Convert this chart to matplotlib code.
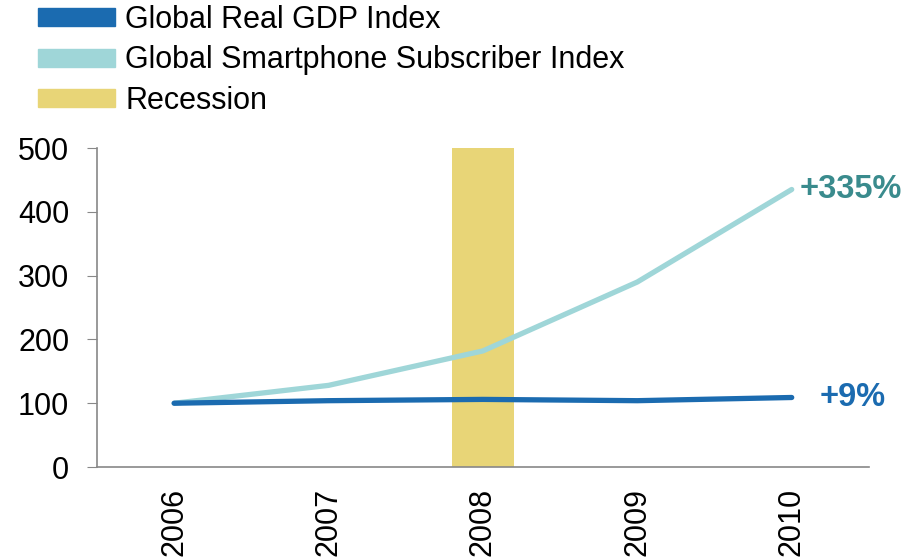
import matplotlib.pyplot as plt
from matplotlib.patches import Patch

plt.rcParams['font.family'] = ['Liberation Sans', 'DejaVu Sans']

years = ['2006', '2007', '2008', '2009', '2010']
gdp_index = [100, 104, 106, 104, 109]
phone_index = [100, 128, 182, 290, 435]
recession_year = '2008'
recession_top = 500

gdp_color = '#1b6bb0'
phone_color = '#9fd6d8'
recession_color = '#e8d577'

fig = plt.figure(figsize=(9.19, 5.6), dpi=100)
ax = fig.add_axes([0.1055, 0.166, 0.84, 0.5697])

x = list(range(len(years)))
ax.bar(years.index(recession_year), recession_top, width=0.4,
       color=recession_color, zorder=1)
ax.plot(x, phone_index, color=phone_color, lw=3.8, zorder=2,
        solid_capstyle='round')
ax.plot(x, gdp_index, color=gdp_color, lw=3.8, zorder=3,
        solid_capstyle='round')

# growth labels at the last point of each series
phone_growth = round((phone_index[-1] - phone_index[0]) / phone_index[0] * 100)
gdp_growth = round((gdp_index[-1] - gdp_index[0]) / gdp_index[0] * 100)
ax.annotate(f'+{phone_growth}%', (x[-1], phone_index[-1]),
            xytext=(6, 0), textcoords='offset points', ha='left', va='center',
            fontsize=23.5, fontweight='bold', color='#3a8b8d')
ax.annotate(f'+{gdp_growth}%', (x[-1], gdp_index[-1]),
            xytext=(20, 0), textcoords='offset points', ha='left', va='center',
            fontsize=23.5, fontweight='bold', color=gdp_color)

ax.set_xlim(-0.5, len(years) - 0.5)
ax.set_ylim(0, 500)
ax.set_yticks([0, 100, 200, 300, 400, 500])
ax.set_xticks(x)
ax.set_xticklabels(years, rotation=90, fontsize=22)
ax.tick_params(axis='y', labelsize=22, length=7, color='#888888', pad=13)
ax.tick_params(axis='x', length=0, pad=15)

for side in ['top', 'right']:
    ax.spines[side].set_visible(False)
for side in ['left', 'bottom']:
    ax.spines[side].set_color('#888888')
    ax.spines[side].set_linewidth(1.2)

handles = [Patch(color=gdp_color), Patch(color=phone_color),
           Patch(color=recession_color)]
labels = ['Global Real GDP Index', 'Global Smartphone Subscriber Index',
          'Recession']
fig.legend(handles, labels, loc='upper left', bbox_to_anchor=(0.0413, 0.991),
           frameon=False, fontsize=22, handlelength=2.52, handleheight=0.52,
           handletextpad=0.33, labelspacing=0.34, borderpad=0,
           borderaxespad=0)

fig.savefig('out.png', dpi=100)
